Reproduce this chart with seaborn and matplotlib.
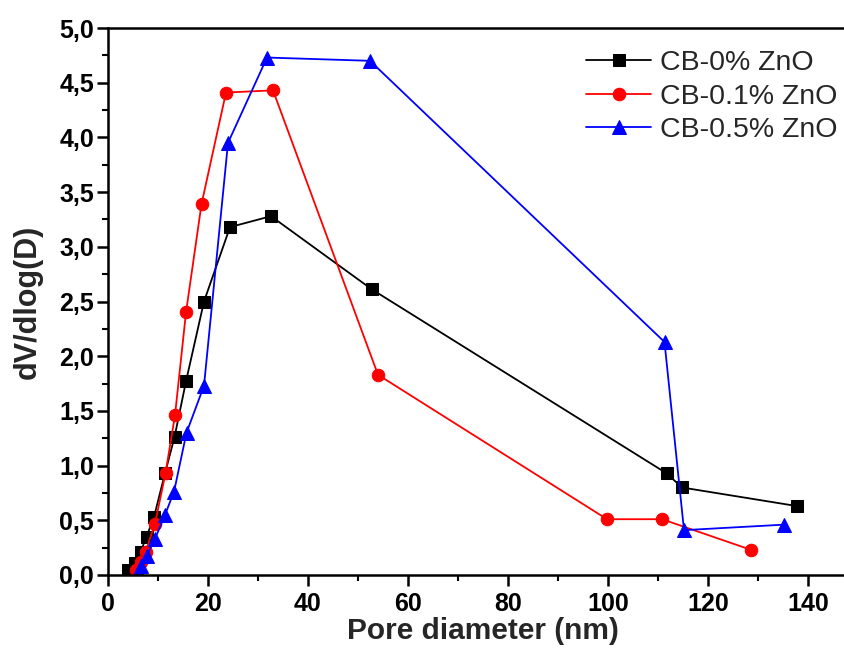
import matplotlib
matplotlib.use('Agg')
import matplotlib.pyplot as plt
from matplotlib.ticker import MultipleLocator, FuncFormatter
import seaborn as sns
import pandas as pd

# Pore size distribution data
cb0_x = [4.0, 5.4, 6.5, 7.7, 9.2, 11.4, 13.3, 15.6, 19.2, 24.4, 32.6, 52.8, 111.7, 114.8, 137.8]
cb0_y = [0.05, 0.11, 0.21, 0.35, 0.53, 0.93, 1.26, 1.77, 2.50, 3.18, 3.28, 2.61, 0.93, 0.80, 0.63]

cb01_x = [5.6, 6.5, 7.5, 9.4, 11.5, 13.4, 15.6, 18.7, 23.6, 33.0, 54.0, 99.8, 110.8, 128.6]
cb01_y = [0.05, 0.12, 0.21, 0.47, 0.93, 1.46, 2.40, 3.39, 4.41, 4.43, 1.83, 0.51, 0.51, 0.23]

cb05_x = [6.1, 6.5, 7.7, 9.4, 11.4, 13.2, 15.7, 19.2, 24.0, 31.8, 52.4, 111.3, 115.2, 135.1]
cb05_y = [0.02, 0.08, 0.17, 0.33, 0.55, 0.76, 1.30, 1.73, 3.95, 4.73, 4.70, 2.13, 0.41, 0.46]

labels = ['CB-0% ZnO', 'CB-0.1% ZnO', 'CB-0.5% ZnO']

sns.set_style('ticks')
plt.rcParams['font.family'] = ['Liberation Sans', 'DejaVu Sans']

fig = plt.figure(figsize=(8.45, 6.59), dpi=100)
ax = fig.add_axes([108 / 845, 84 / 659, 750 / 845, 547 / 659])

series = [
    (cb0_x, cb0_y, labels[0], 'black', 's', 8),
    (cb01_x, cb01_y, labels[1], 'red', 'o', 9),
    (cb05_x, cb05_y, labels[2], 'blue', '^', 10),
]
for xs, ys, lab, col, mk, ms in series:
    df = pd.DataFrame({'d': xs, 'v': ys})
    sns.lineplot(data=df, x='d', y='v', ax=ax, color=col, marker=mk, markersize=ms,
                 markeredgecolor=col, linewidth=1.3, sort=False, estimator=None, label=lab)

ax.set_xlim(0, 150)
ax.set_ylim(0, 5)
ax.xaxis.set_major_locator(MultipleLocator(20))
ax.xaxis.set_minor_locator(MultipleLocator(10))
ax.yaxis.set_major_locator(MultipleLocator(0.5))
ax.yaxis.set_minor_locator(MultipleLocator(0.25))
ax.yaxis.set_major_formatter(FuncFormatter(lambda v, p: f'{v:.1f}'.replace('.', ',')))

for s in ['left', 'bottom', 'top']:
    ax.spines[s].set_linewidth(1.8)
    ax.spines[s].set_color('black')
ax.spines['right'].set_visible(False)

ax.tick_params(which='major', direction='out', length=8, width=1.8, labelsize=18,
               colors='black')
ax.tick_params(which='minor', direction='out', length=4.5, width=1.5, colors='black')
ax.tick_params(axis='x', which='major', pad=4)
ax.tick_params(axis='y', which='major', pad=2)
for t in ax.get_xticklabels() + ax.get_yticklabels():
    t.set_fontweight('bold')

ax.set_xlabel('Pore diameter (nm)', fontsize=21.5, fontweight='bold', labelpad=1)
ax.set_ylabel('dV/dlog(D)', fontsize=22, fontweight='bold', labelpad=12)

ax.legend(loc='upper left', bbox_to_anchor=(586 / 845, 1 - 50 / 659),
          bbox_transform=fig.transFigure, frameon=False, fontsize=20.5,
          handlelength=2.3, handletextpad=0.3, labelspacing=0.27,
          borderpad=0, borderaxespad=0)

fig.savefig('out.png', dpi=100)
